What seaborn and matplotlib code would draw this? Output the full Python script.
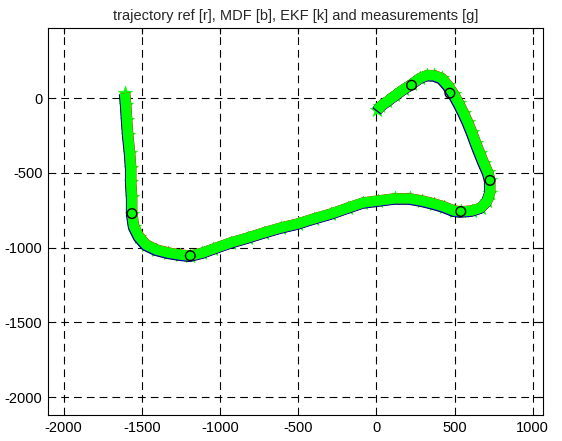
import numpy as np
import pandas as pd
import seaborn as sns
import matplotlib
matplotlib.use("Agg")
import matplotlib.pyplot as plt
from matplotlib.transforms import ScaledTranslation

traj_x = [-1608, -1601, -1595, -1588, -1576, -1569, -1569, -1563, -1563, -1550,
          -1518, -1473, -1408, -1331, -1254, -1190, -1113, -1042, -932, -823,
          -720, -611, -502, -399, -289, -180, -84, 13, 116, 212,
          289, 367, 431, 495, 540, 611, 669, 707, 727, 727,
          714, 688, 662, 637, 611, 585, 559, 527, 495, 457,
          418, 367, 322, 277, 225, 174, 122, 71, 26, 6]
traj_y = [34, -47, -148, -248, -369, -470, -564, -664, -772, -859,
          -926, -980, -1013, -1034, -1047, -1054, -1034, -1007, -966, -933,
          -899, -866, -839, -805, -772, -732, -698, -685, -671, -671,
          -685, -705, -725, -752, -758, -752, -732, -691, -631, -550,
          -497, -436, -369, -302, -228, -161, -101, -34, 27, 87,
          134, 154, 154, 134, 94, 60, 20, -20, -54, -81]

# black circle markers
circle_x = [-1563, -1190, 540, 727, 470, 225]
circle_y = [-772, -1054, -758, -550, 34, 87]

x_ticks = [-2000, -1500, -1000, -500, 0, 500, 1000]
y_ticks = [-2000, -1500, -1000, -500, 0]

sns.set_style("white")
plt.rcParams['font.family'] = ['Liberation Sans', 'DejaVu Sans']
plt.rcParams['axes.unicode_minus'] = False

fig = plt.figure(figsize=(5.62, 4.41), dpi=100)
ax = fig.add_axes([0.0854, 0.059, 0.8806, 0.8775])

df = pd.DataFrame({"x": traj_x, "y": traj_y})

# (colour, linewidth, offset in px) for EKF, MDF, ref, measurements
layers = [("black", 7.6, (-0.8, -1.0)),
          ("blue", 7.6, (-0.4, -0.6)),
          ("red", 7.4, (0.3, 0.2)),
          ("#00ff00", 7.4, (0.0, 0.0))]
for col, lw, (dx, dy) in layers:
    sns.lineplot(data=df, x="x", y="y", sort=False, estimator=None,
                 color=col, lw=lw, ax=ax, legend=False,
                 solid_capstyle="butt", solid_joinstyle="round")
    ax.lines[-1].set_transform(ax.transData + ScaledTranslation(dx / 100, dy / 100, fig.dpi_scale_trans))

# measurement stars
sns.scatterplot(data=df, x="x", y="y", marker="*", s=115, color="#00ff00",
                edgecolor="#00ff00", linewidth=0.4, ax=ax, legend=False)

sns.scatterplot(x=circle_x, y=circle_y, marker="o", s=48, ax=ax, legend=False,
                color="none", edgecolor="black", linewidth=1.0, zorder=5)
ax.collections[-1].set_facecolor("none")

ax.set_xlim(-2100, 1065)
ax.set_ylim(-2120, 470)
ax.set_xticks(x_ticks)
ax.set_yticks(y_ticks)
ax.set_xlabel("")
ax.set_ylabel("")
ax.grid(True, color="black", linestyle=(0, (7, 4.5)), linewidth=0.8)
ax.set_axisbelow(True)
ax.tick_params(direction="in", length=4, width=0.8, top=True, right=True,
               labelsize=10.5, colors="black", pad=4)
for sp in ax.spines.values():
    sp.set_color("black")
    sp.set_linewidth(0.8)

ax.set_title("trajectory ref [r], MDF [b], EKF [k] and measurements [g]",
             fontsize=10.5, pad=6)

fig.savefig("out.png", dpi=100)
